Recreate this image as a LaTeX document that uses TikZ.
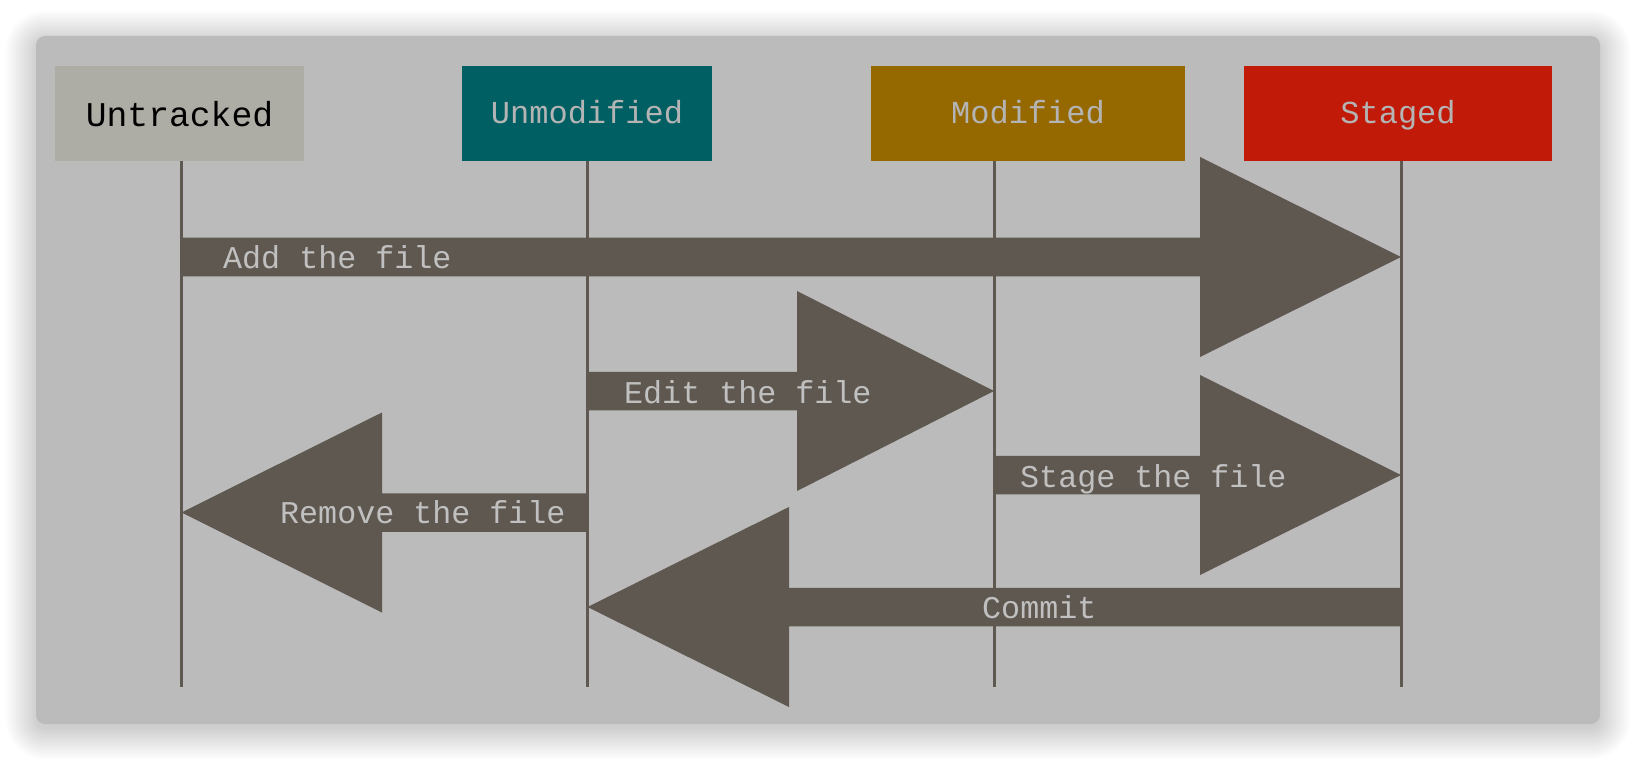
\documentclass[tikz,border=0pt]{standalone}
\usepackage{fontspec}
\setmonofont{Liberation Mono}
\usetikzlibrary{calc}

\definecolor{panelgrey}{HTML}{BBBBBB}
\definecolor{arrowbrown}{HTML}{5F5850}
\definecolor{labelgrey}{HTML}{C0C0C0}
\definecolor{boxtext}{HTML}{B4B4B4}
\definecolor{untrackedgrey}{HTML}{ADADA5}
\definecolor{unmodteal}{HTML}{005F63}
\definecolor{modochre}{HTML}{966800}
\definecolor{stagedred}{HTML}{C11A09}

\tikzset{
  statebox/.style={rectangle, inner sep=0pt, minimum height=95pt,
    font=\ttfamily\fontsize{32pt}{38pt}\selectfont, text=boxtext,
    text height=22pt, text depth=2pt},
  lifeline/.style={draw=arrowbrown, line width=3pt},
  fatarrow/.style={fill=arrowbrown},
  arrowlabel/.style={anchor=base west, inner sep=0pt, text=labelgrey,
    font=\ttfamily\fontsize{31.7pt}{38pt}\selectfont},
  shadowlayer/.style={fill=black, opacity=0.01},
}

% fat arrow: shaft from #1 to the head base, head tip at #2, head length #3 (signed)
\newcommand\fatarrowpath[3]{%
  \fill[fatarrow] ($(#1)+(0,-19.25)$) -- ($(#2)+(#3,-19.25)$) -- ($(#2)+(#3,-100)$)
    -- (#2) -- ($(#2)+(#3,100)$) -- ($(#2)+(#3,19.25)$) -- ($(#1)+(0,19.25)$) -- cycle;}

\begin{document}
\begin{tikzpicture}[x=1pt,y=-1pt]
  \useasboundingbox (0,0) rectangle (1636,762);
  \fill[white] (0,0) rectangle (1636,762);

  % soft shadow under the panel: stacked translucent rounded rectangles
  \foreach \i in {1,...,16} {
    \pgfmathsetmacro{\d}{32-2*\i}
    \pgfmathsetmacro{\r}{9+\d}
    \fill[shadowlayer, rounded corners=\r pt]
      (36-\d,36-\d+5) rectangle (1600+\d,724+\d+5);
  }

  % panel
  \fill[panelgrey, rounded corners=9pt] (36,36) rectangle (1600,724);

  % lifeline ends
  \coordinate (uEnd) at (181.5,687);
  \coordinate (nEnd) at (587.5,687);
  \coordinate (mEnd) at (994,687);
  \coordinate (sEnd) at (1401,687);

  % state boxes
  \node[statebox, fill=untrackedgrey, minimum width=249pt, text=black,
    font=\ttfamily\fontsize{34.7pt}{40pt}\selectfont, text height=28pt, text depth=1pt]
    (untracked) at (179.5,113.5) {Untracked};
  \node[statebox, fill=unmodteal, minimum width=250pt] (unmodified) at (587,113.5) {Unmodified};
  \node[statebox, fill=modochre, minimum width=314pt] (modified) at (1028,113.5) {Modified};
  \node[statebox, fill=stagedred, minimum width=308pt] (staged) at (1398,113.5) {Staged};

  % lifelines
  \draw[lifeline] (untracked.south -| uEnd) -- (uEnd);
  \draw[lifeline] (unmodified.south -| nEnd) -- (nEnd);
  \draw[lifeline] (modified.south -| mEnd) -- (mEnd);
  \draw[lifeline] (staged.south -| sEnd) -- (sEnd);

  % transition end points on the lifelines
  \coordinate (addTail) at (181.5,257);   \coordinate (addTip) at (1401,257);
  \coordinate (editTail) at (587.5,391);  \coordinate (editTip) at (994,391);
  \coordinate (stageTail) at (994,475);   \coordinate (stageTip) at (1401,475);
  \coordinate (removeTail) at (587.5,512.5); \coordinate (removeTip) at (181.5,512.5);
  \coordinate (commitTail) at (1401,607); \coordinate (commitTip) at (587.5,607);

  % transitions
  \fatarrowpath{addTail}{addTip}{-201}
  \fatarrowpath{editTail}{editTip}{-197}
  \fatarrowpath{stageTail}{stageTip}{-201}
  \fatarrowpath{removeTail}{removeTip}{200.5}
  \fatarrowpath{commitTail}{commitTip}{201.5}

  % transition labels
  \node[arrowlabel] (addLbl) at (223,269) {Add the file};
  \node[arrowlabel] (editLbl) at (624,403) {Edit the file};
  \node[arrowlabel] (stageLbl) at (1020,487) {Stage the file};
  \node[arrowlabel] (removeLbl) at (280,523.5) {Remove the file};
  \node[arrowlabel] (commitLbl) at (982,618) {Commit};
\end{tikzpicture}
\end{document}
